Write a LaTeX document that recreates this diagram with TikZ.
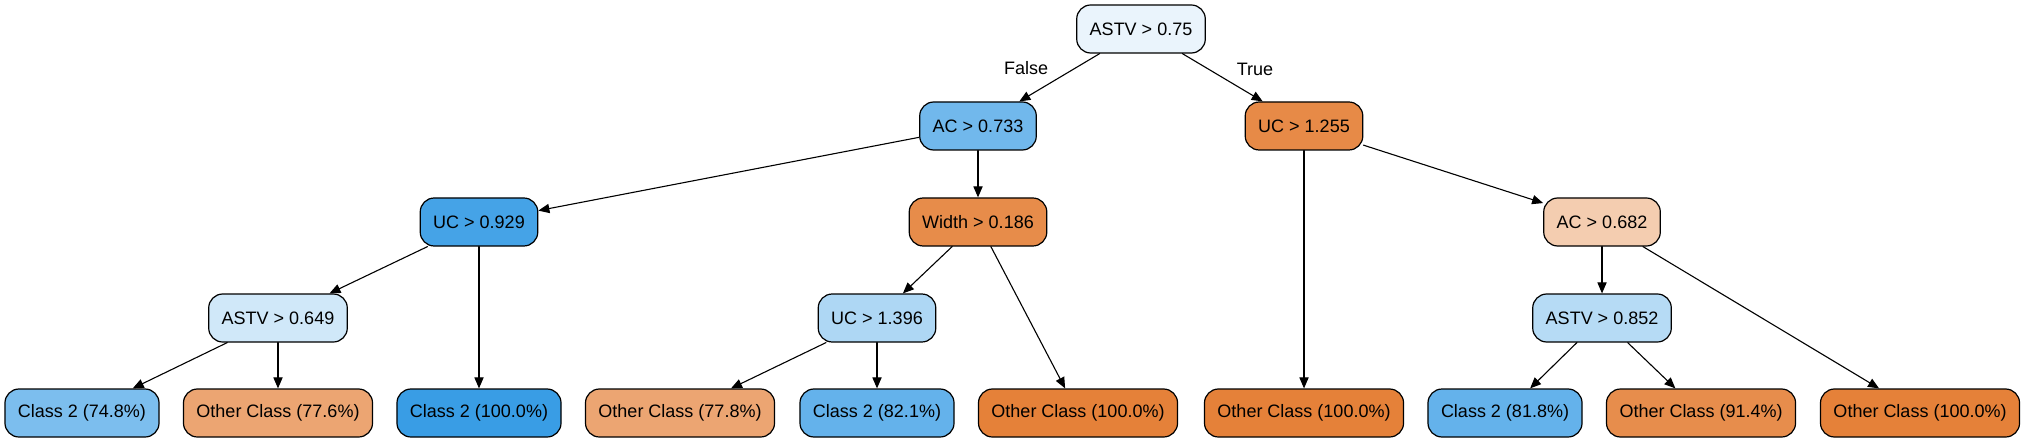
\documentclass[tikz,border=0pt]{standalone}
\usepackage{fontspec}
\setmainfont{Liberation Sans}
\usetikzlibrary{arrows.meta}
\definecolor{blueA}{HTML}{EAF4FC}
\definecolor{blueB}{HTML}{71B8EC}
\definecolor{blueC}{HTML}{45A3E7}
\definecolor{blueD}{HTML}{D0E8F9}
\definecolor{blueE}{HTML}{AED7F4}
\definecolor{blueF}{HTML}{B6DBF5}
\definecolor{blueG}{HTML}{7CBEEE}
\definecolor{blueH}{HTML}{399DE5}
\definecolor{blueI}{HTML}{64B2EB}
\definecolor{orangeA}{HTML}{E78A47}
\definecolor{orangeB}{HTML}{E78C4A}
\definecolor{orangeC}{HTML}{F4CDB0}
\definecolor{orangeD}{HTML}{ECA572}
\definecolor{orangeE}{HTML}{E58139}
\definecolor{orangeF}{HTML}{E78D4C}
\begin{document}
\begin{tikzpicture}[line cap=round,line join=round,x=0.5pt,y=-0.5pt,
	box/.style={draw=black,line width=0.6pt,rounded corners=7pt,minimum height=24pt,inner xsep=6.5pt,font=\fontsize{9}{11}\selectfont},
	arr/.style={line width=0.55pt,-{Triangle[length=5.5pt,width=4.6pt]}},
	lab/.style={font=\fontsize{9}{11}\selectfont}]
			\useasboundingbox (0,0) rectangle (2027,443);
			% splits
			\node[box,fill=blueA] (root) at (1141,29) {ASTV > 0.75};
			\node[box,fill=blueB] (ac1) at (978,126) {AC > 0.733};
			\node[box,fill=orangeA] (uc1) at (1304,126) {UC > 1.255};
			\node[box,fill=blueC] (uc2) at (479,222) {UC > 0.929};
			\node[box,fill=orangeB] (wid) at (978,222) {Width > 0.186};
			\node[box,fill=orangeC] (ac2) at (1602,222) {AC > 0.682};
			\node[box,fill=blueD] (astv2) at (278,318) {ASTV > 0.649};
			\node[box,fill=blueE] (uc3) at (877,318) {UC > 1.396};
			\node[box,fill=blueF] (astv3) at (1602,318) {ASTV > 0.852};
			% leaves
			\node[box,fill=blueG] (l1) at (82,413) {Class 2 (74.8\%)};
			\node[box,fill=orangeD] (l2) at (278,413) {Other Class (77.6\%)};
			\node[box,fill=blueH] (l3) at (479,413) {Class 2 (100.0\%)};
			\node[box,fill=orangeD] (l4) at (680,413) {Other Class (77.8\%)};
			\node[box,fill=blueI] (l5) at (877,413) {Class 2 (82.1\%)};
			\node[box,fill=orangeE] (l6) at (1078,413) {Other Class (100.0\%)};
			\node[box,fill=orangeE] (l7) at (1304,413) {Other Class (100.0\%)};
			\node[box,fill=blueI] (l8) at (1505,413) {Class 2 (81.8\%)};
			\node[box,fill=orangeF] (l9) at (1701,413) {Other Class (91.4\%)};
			\node[box,fill=orangeE] (l10) at (1920,413) {Other Class (100.0\%)};
			\node[lab] (lfalse) at (1026,68) {False};
			\node[lab] (ltrue) at (1255,69) {True};
			% edges
			\draw[arr] (root) -- (ac1);
			\draw[arr] (root) -- (uc1);
			\draw[arr] (ac1) -- (uc2);
			\draw[arr] (ac1) -- (wid);
			\draw[arr] (uc2) -- (astv2);
			\draw[arr] (uc2) -- (l3);
			\draw[arr] (astv2) -- (l1);
			\draw[arr] (astv2) -- (l2);
			\draw[arr] (wid) -- (uc3);
			\draw[arr] (wid) -- (l6);
			\draw[arr] (uc3) -- (l4);
			\draw[arr] (uc3) -- (l5);
			\draw[arr] (uc1) -- (l7);
			\draw[arr] (uc1) -- (ac2);
			\draw[arr] (ac2) -- (astv3);
			\draw[arr] (ac2) -- (l10);
			\draw[arr] (astv3) -- (l8);
			\draw[arr] (astv3) -- (l9);
		\end{tikzpicture}
\end{document}
